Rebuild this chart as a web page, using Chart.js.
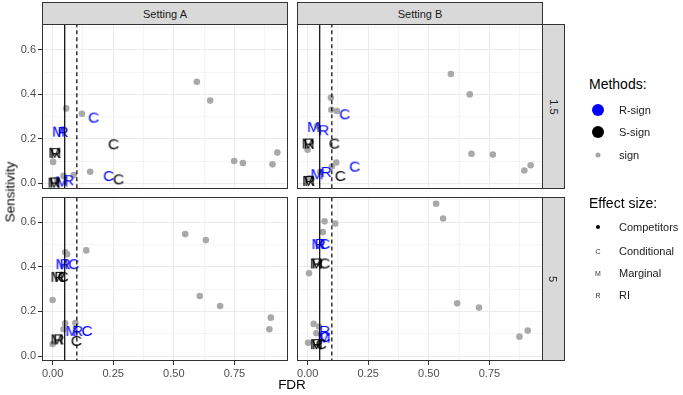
<!DOCTYPE html>
<html lang="en">
<head>
    <meta charset="UTF-8">
    <title>FDR vs Sensitivity</title>
    <script src="https://cdn.jsdelivr.net/npm/chart.js"></script>
    <style>
        body {
            margin: 0;
            padding: 0;
            background: white;
            font-family: "Liberation Sans", Arial, sans-serif;
        }
        #wrap {
            position: relative;
            width: 683px;
            height: 395px;
            overflow: hidden;
        }
        #wrap canvas, .abs {
            position: absolute;
        }
        .abs {
            font-weight: normal;
            color: #000;
        }
        .strip {
            position: absolute;
            box-sizing: border-box;
            background: #d9d9d9;
            border: 1px solid #333;
            color: #1a1a1a;
            font-size: 11px;
            display: flex;
            align-items: center;
            justify-content: center;
        }
        .strip.side span {
            transform: rotate(90deg);
            white-space: nowrap;
        }
        .lg-title {
            position: absolute;
            left: 589px;
            font-size: 14px;
            color: #000;
            line-height: 16px;
        }
        .lg-item {
            position: absolute;
            left: 619px;
            font-size: 11px;
            color: #1a1a1a;
            line-height: 14px;
        }
        .key {
            position: absolute;
            transform: translate(-50%, -50%);
            border-radius: 50%;
        }
        .key-txt {
            position: absolute;
            transform: translate(-50%, -50%);
            font-size: 7px;
            color: #333;
        }
    </style>
</head>
<body>
<div id="wrap">
    <canvas id="pA15" width="288" height="165" style="left:0;top:24px"></canvas>
    <canvas id="pB15" width="261" height="165" style="left:282px;top:24px"></canvas>
    <canvas id="pA5" width="288" height="187" style="left:0;top:197px"></canvas>
    <canvas id="pB5" width="261" height="187" style="left:282px;top:197px"></canvas>

    <div class="strip" style="left:42px;top:2px;width:246px;height:23px">Setting A</div>
    <div class="strip" style="left:297px;top:2px;width:246px;height:23px">Setting B</div>
    <div class="strip side" style="left:542px;top:24px;width:23px;height:165px"><span>1.5</span></div>
    <div class="strip side" style="left:542px;top:197px;width:23px;height:164px"><span>5</span></div>

    <div class="abs" style="left:10px;top:192px;transform:translate(-50%,-50%) rotate(-90deg);font-size:13.5px;white-space:nowrap">Sensitivity</div>
    <div class="abs" style="left:292px;top:384px;transform:translate(-50%,-50%);font-size:13.5px">FDR</div>

    <div class="lg-title" style="top:76px">Methods:</div>
    <div class="key" style="left:598px;top:110px;width:12px;height:12px;background:#0000ff"></div>
    <div class="lg-item" style="top:103px">R-sign</div>
    <div class="key" style="left:598px;top:132px;width:12px;height:12px;background:#000"></div>
    <div class="lg-item" style="top:125px">S-sign</div>
    <div class="key" style="left:598px;top:155px;width:5px;height:5px;background:#a6a6a6"></div>
    <div class="lg-item" style="top:148px">sign</div>

    <div class="lg-title" style="top:195px">Effect size:</div>
    <div class="key" style="left:598px;top:227px;width:4px;height:4px;background:#000"></div>
    <div class="lg-item" style="top:220px">Competitors</div>
    <div class="key-txt" style="left:598px;top:251px">C</div>
    <div class="lg-item" style="top:244px">Conditional</div>
    <div class="key-txt" style="left:598px;top:273px">M</div>
    <div class="lg-item" style="top:266px">Marginal</div>
    <div class="key-txt" style="left:598px;top:295px">R</div>
    <div class="lg-item" style="top:288px">RI</div>
</div>

<script>
    // axis ticks
    const xMajor = [0, 0.25, 0.5, 0.75];
    const xMinor = [0.125, 0.375, 0.625, 0.875];
    const yMajor = [0, 0.2, 0.4, 0.6];
    const yMinor = [0.1, 0.3, 0.5, 0.7];
    const fdrLines = [0.05, 0.1];

    // sign (competitors): [FDR, sensitivity]
    const signA15 = [[0.595,0.457],[0.650,0.372],[0.749,0.100],[0.785,0.091],[0.907,0.085],[0.927,0.138],
        [0.056,0.337],[0.121,0.313],[0.155,0.052],[0.002,0.096],[0.039,0.240],[0.087,0.037],[0.045,0.033],[0.018,0.015]];
    const signB15 = [[0.591,0.492],[0.669,0.400],[0.096,0.385],[0.098,0.331],[0.121,0.325],[0.0,0.151],[0.039,0.258],
        [0.676,0.133],[0.764,0.129],[0.894,0.057],[0.920,0.081],[0.118,0.093],[0.100,0.075],[0.052,0.052],[0.008,0.022]];
    const signA5 = [[0.547,0.546],[0.632,0.519],[0.139,0.473],[0.052,0.465],[0.060,0.456],[0.0,0.251],[0.607,0.269],
        [0.691,0.224],[0.900,0.172],[0.894,0.120],[0.052,0.147],[0.094,0.148],[0.045,0.120],[0.0,0.054]];
    const signB5 = [[0.530,0.682],[0.559,0.616],[0.070,0.603],[0.114,0.593],[0.063,0.555],[0.006,0.371],[0.617,0.236],
        [0.707,0.217],[0.908,0.114],[0.874,0.087],[0.025,0.144],[0.047,0.132],[0.036,0.102],[0.002,0.060]];

    // R-sign: [FDR, sensitivity, effect size]
    const rsignA15 = [[0.169,0.300,'C'],[0.025,0.237,'M'],[0.043,0.235,'R'],[0.231,0.037,'C'],[0.039,0.012,'M'],[0.066,0.018,'R']];
    const rsignB15 = [[0.153,0.315,'C'],[0.025,0.258,'M'],[0.066,0.243,'R'],[0.194,0.079,'C'],[0.039,0.045,'M'],[0.077,0.055,'R']];
    const rsignA5 = [[0.039,0.416,'M'],[0.052,0.416,'R'],[0.087,0.416,'C'],[0.080,0.117,'M'],[0.103,0.117,'R'],[0.142,0.117,'C']];
    const rsignB5 = [[0.043,0.506,'M'],[0.052,0.506,'R'],[0.070,0.506,'C'],[0.070,0.117,'R'],[0.068,0.087,'M'],[0.072,0.090,'C']];

    // S-sign: [FDR, sensitivity, effect size]
    const ssignA15 = [[0.251,0.180,'C'],[0.009,0.142,'M'],[0.012,0.140,'R'],[0.272,0.022,'C'],[0.006,0.007,'M'],[0.009,0.008,'R']];
    const ssignB15 = [[0.110,0.183,'C'],[0.002,0.183,'M'],[0.006,0.183,'R'],[0.135,0.037,'C'],[0.004,0.015,'M'],[0.008,0.015,'R']];
    const ssignA5 = [[0.018,0.359,'M'],[0.029,0.359,'R'],[0.043,0.359,'C'],[0.018,0.079,'M'],[0.025,0.079,'R'],[0.098,0.072,'C']];
    const ssignB5 = [[0.036,0.419,'M'],[0.040,0.419,'R'],[0.070,0.419,'C'],[0.036,0.058,'M'],[0.040,0.058,'R'],[0.056,0.058,'C']];

    const FONT = '"Liberation Sans", Arial, sans-serif';
    const glyphCache = {};
    function glyph(ch, color) {
        const key = ch + color;
        if (glyphCache[key]) return glyphCache[key];
        const size = 15.5;
        const c = document.createElement('canvas');
        const g = c.getContext('2d');
        g.font = size + 'px ' + FONT;
        const w = Math.ceil(g.measureText(ch).width) + 2;
        c.width = w;
        c.height = 20;
        g.font = size + 'px ' + FONT;
        g.fillStyle = color;
        g.textAlign = 'center';
        g.textBaseline = 'alphabetic';
        g.fillText(ch, w / 2, 10 + size * 0.716 / 2);
        glyphCache[key] = c;
        return c;
    }

    const isMajor = (v, n) => Math.abs(v * n - Math.round(v * n)) < 1e-6;

    const panelBorder = {
        id: 'panelBorder',
        afterDraw(chart) {
            const { ctx, chartArea: a } = chart;
            ctx.save();
            ctx.strokeStyle = '#333';
            ctx.lineWidth = 1;
            ctx.strokeRect(a.left + 0.5, a.top + 0.5, a.width - 1, a.height - 1);
            ctx.restore();
        }
    };

    function textSet(rows, color, order) {
        return {
            data: rows.map(r => ({ x: r[0], y: r[1] })),
            pointStyle: rows.map(r => glyph(r[2], color)),
            pointRadius: 3,
            order: order
        };
    }

    function makePanel(id, sign, rsign, ssign, left, bottom, yMin, yMax) {
        const datasets = fdrLines.map((v, i) => ({
            type: 'line',
            data: [{ x: v, y: -1 }, { x: v, y: 1 }],
            borderColor: '#000',
            borderWidth: 1.2,
            borderDash: i ? [4, 3] : [],
            pointRadius: 0,
            order: 0
        }));
        datasets.push(textSet(ssign, '#000000', 1));
        datasets.push(textSet(rsign, '#0000ff', 2));
        datasets.push({
            data: sign.map(r => ({ x: r[0], y: r[1] })),
            pointStyle: 'circle',
            pointRadius: 3.3,
            backgroundColor: '#a9a9a9',
            borderWidth: 0,
            order: 3
        });

        new Chart(document.getElementById(id), {
            type: 'scatter',
            data: { datasets },
            plugins: [panelBorder],
            options: {
                responsive: false,
                animation: false,
                events: [],
                layout: { padding: 0, autoPadding: false },
                plugins: { legend: { display: false }, tooltip: { enabled: false } },
                scales: {
                    x: {
                        type: 'linear',
                        min: -0.0437,
                        max: 0.971,
                        afterBuildTicks: s => { s.ticks = xMajor.concat(xMinor).map(v => ({ value: v })); },
                        afterFit: s => {
                            s.height = bottom ? 23 : 0;
                            s.paddingLeft = 0;
                            s.paddingRight = 0;
                        },
                        border: { display: false },
                        grid: {
                            color: c => isMajor(c.tick.value, 4) ? '#ebebeb' : '#f4f4f4',
                            drawTicks: bottom,
                            tickLength: 4,
                            tickColor: c => isMajor(c.tick.value, 4) ? '#333' : 'rgba(0,0,0,0)'
                        },
                        ticks: {
                            display: bottom,
                            autoSkip: false,
                            maxRotation: 0,
                            padding: 2,
                            color: '#4d4d4d',
                            font: { family: FONT, size: 11 },
                            callback: v => isMajor(v, 4) ? v.toFixed(2) : ''
                        }
                    },
                    y: {
                        type: 'linear',
                        min: yMin,
                        max: yMax,
                        afterBuildTicks: s => { s.ticks = yMajor.concat(yMinor).filter(v => v <= yMax).map(v => ({ value: v })); },
                        afterFit: s => {
                            s.width = left ? 42 : 15;
                            s.paddingTop = 0;
                            s.paddingBottom = 0;
                        },
                        border: { display: false },
                        grid: {
                            color: c => isMajor(c.tick.value, 5) ? '#ebebeb' : '#f4f4f4',
                            drawTicks: left,
                            tickLength: 4,
                            tickColor: c => isMajor(c.tick.value, 5) ? '#333' : 'rgba(0,0,0,0)'
                        },
                        ticks: {
                            display: left,
                            autoSkip: false,
                            padding: 2,
                            color: '#4d4d4d',
                            font: { family: FONT, size: 11 },
                            callback: v => isMajor(v, 5) ? v.toFixed(1) : ''
                        }
                    }
                }
            }
        });
    }

    makePanel('pA15', signA15, rsignA15, ssignA15, true, false, -0.026, 0.717);
    makePanel('pB15', signB15, rsignB15, ssignB15, false, false, -0.026, 0.717);
    makePanel('pA5', signA5, rsignA5, ssignA5, true, true, -0.022, 0.712);
    makePanel('pB5', signB5, rsignB5, ssignB5, false, true, -0.022, 0.712);
</script>
</body>
</html>
